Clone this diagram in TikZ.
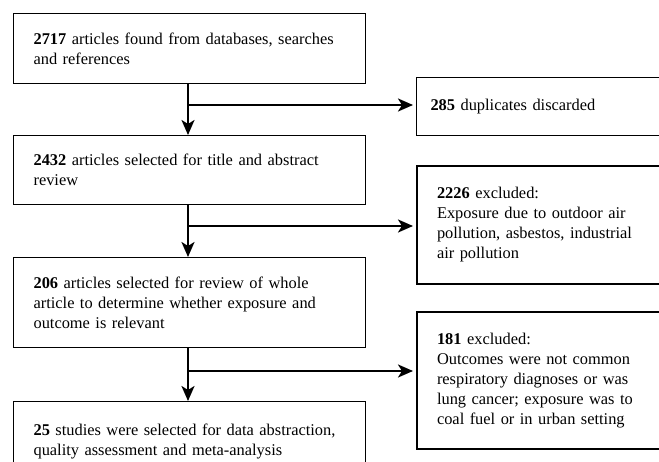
\documentclass[tikz,border=0pt]{standalone}
\usepackage{fontspec}
\setmainfont{Liberation Serif}
\usetikzlibrary{arrows.meta,calc}
\begin{document}
\begin{tikzpicture}[x=1pt,y=-1pt,
  txt/.style={font=\fontsize{16.4}{20}\selectfont, align=left},
  lbox/.style={txt, draw, line width=1.1pt, anchor=north west, inner xsep=20pt, inner ysep=0pt, text width=312pt},
  rbox/.style={txt, draw, anchor=north west, inner ysep=0pt},
  conn/.style={line width=2.4pt, -{Stealth[length=15pt,width=13pt,inset=4pt]}},
  trunk/.style={line width=2.4pt}]
\clip (0,0) rectangle (659,462);
\fill[white] (0,0) rectangle (659,462);
% left boxes
\node[lbox, minimum height=70pt] (b1) at (13,13) {\mbox{\textbf{2717} articles found from databases, searches}\\\mbox{and references}};
\node[lbox, minimum height=69pt] (b2) at (13,135) {\mbox{\textbf{2432} articles selected for title and abstract}\\\mbox{review}};
\node[lbox, minimum height=90pt] (b3) at (13,257) {\mbox{\textbf{206} articles selected for review of whole}\\\mbox{article to determine whether exposure and}\\\mbox{outcome is relevant}};
\node[lbox, minimum height=80pt] (b4) at (13,401) {\mbox{\textbf{25} studies were selected for data abstraction,}\\\mbox{quality assessment and meta-analysis}};
% right boxes
\node[rbox, line width=1pt, inner xsep=14pt, text width=272pt, minimum height=58pt] (r1) at (416,77) {\mbox{\textbf{285} duplicates discarded}};
\node[rbox, line width=2pt, inner xsep=20pt, text width=260pt, minimum height=118pt] (r2) at (416,165) {\mbox{\textbf{2226} excluded:}\\\mbox{Exposure due to outdoor air}\\\mbox{pollution, asbestos, industrial}\\\mbox{air pollution}};
\node[rbox, line width=2pt, inner xsep=20pt, text width=260pt, minimum height=137pt] (r3) at (416,311) {\mbox{\textbf{181} excluded:}\\\mbox{Outcomes were not common}\\\mbox{respiratory diagnoses or was}\\\mbox{lung cancer; exposure was to}\\\mbox{coal fuel or in urban setting}};
% junctions
\coordinate (j1) at (188,105);
\coordinate (j2) at (188,226);
\coordinate (j3) at (188,371);
% connectors
\draw[conn] (b1.south -| j1) -- (b2.north -| j1);
\draw[conn] (b2.south -| j2) -- (b3.north -| j2);
\draw[conn] (b3.south -| j3) -- (b4.north -| j3);
\draw[conn, shorten >=3pt] (j1) -- (j1 -| r1.west);
\draw[conn, shorten >=3pt] (j2) -- (j2 -| r2.west);
\draw[conn, shorten >=3pt] (j3) -- (j3 -| r3.west);
\end{tikzpicture}
\end{document}
